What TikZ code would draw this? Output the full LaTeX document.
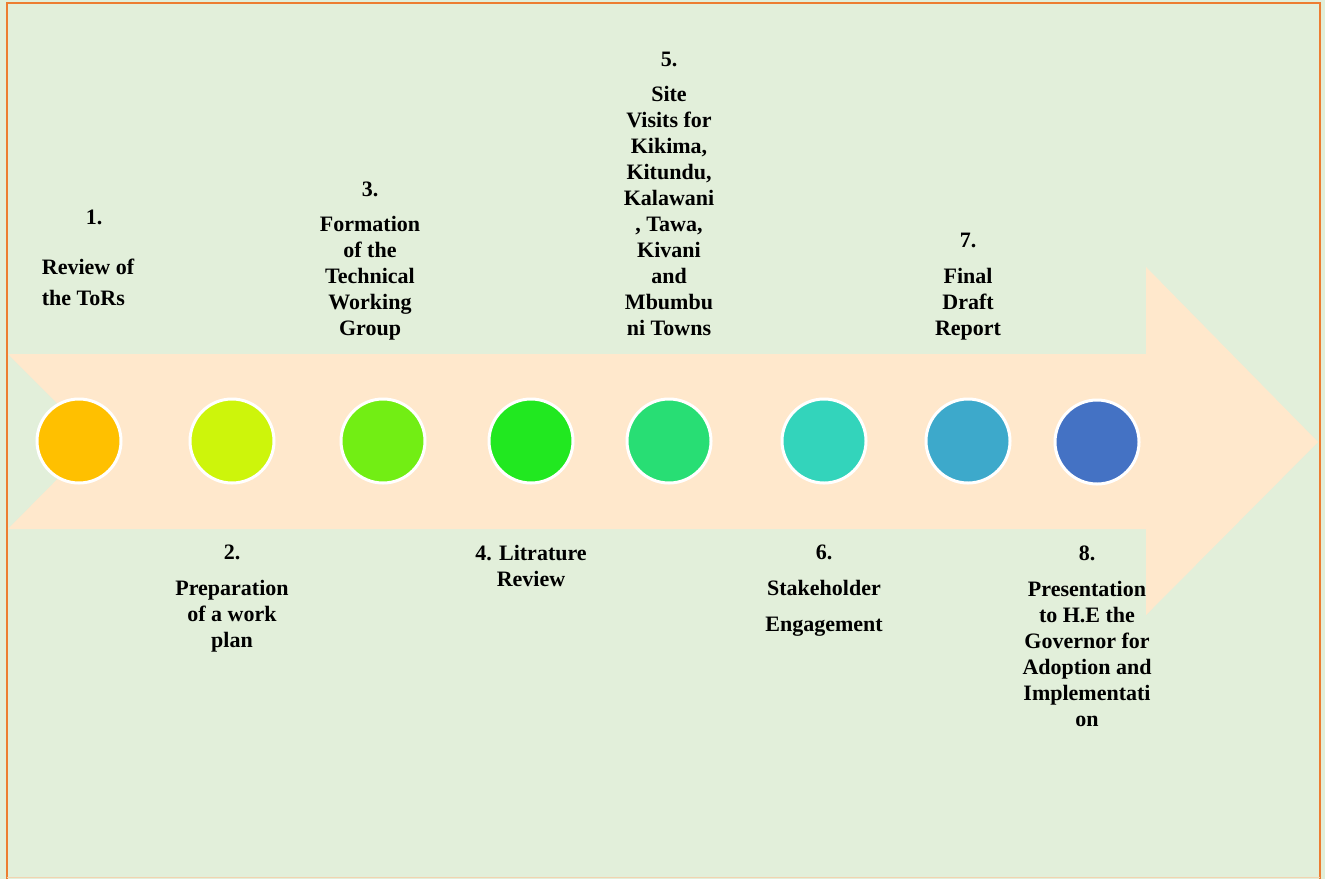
\documentclass[tikz,border=0pt]{standalone}
\usepackage{fontspec}
\setmainfont{Liberation Serif}
\usetikzlibrary{positioning}

\definecolor{bgreen}{HTML}{E2EFDA}
\definecolor{arrowfill}{HTML}{FFE8CC}
\definecolor{frameorange}{HTML}{ED7D31}
\definecolor{stepA}{HTML}{FFC000}
\definecolor{stepB}{HTML}{CDF50B}
\definecolor{stepC}{HTML}{72EE14}
\definecolor{stepD}{HTML}{21E820}
\definecolor{stepE}{HTML}{28DE74}
\definecolor{stepF}{HTML}{33D4BB}
\definecolor{stepG}{HTML}{3DA9CB}
\definecolor{stepH}{HTML}{4472C4}

\begin{document}
\begin{tikzpicture}[x=0.5pt, y=-0.5pt,
        dot/.style={circle, draw=white, line width=1.5pt, minimum size=42pt, inner sep=0pt},
        lbl/.style={align=center, anchor=north, inner sep=0pt,
            font=\fontsize{11}{13}\selectfont\bfseries}]
    \useasboundingbox (0,0) rectangle (1325,879);
    \fill[bgreen] (0,0) rectangle (1325,879);
    \draw[frameorange, line width=1pt] (6.5,879) -- (6.5,3) -- (1319.5,3) -- (1319.5,879);
    \draw[arrowfill!80!brown, line width=0.5pt] (6.5,877.5) -- (1319.5,877.5);

    % timeline arrow
    \fill[arrowfill] (8,354) -- (1146,354) -- (1146,267) -- (1318,442)
        -- (1146,615) -- (1146,529) -- (8,529) -- (95,441) -- cycle;

    % steps
    \node[dot, fill=stepA] (s1) at (79,441)   {};
    \node[dot, fill=stepB] (s2) at (232,441)  {};
    \node[dot, fill=stepC] (s3) at (383,441)  {};
    \node[dot, fill=stepD] (s4) at (531,441)  {};
    \node[dot, fill=stepE] (s5) at (669,441)  {};
    \node[dot, fill=stepF] (s6) at (824,441)  {};
    \node[dot, fill=stepG] (s7) at (968,441)  {};
    \node[dot, fill=stepH] (s8) at (1097,442) {};

    % labels above
    \node[lbl, align=left] (t1) at (88,210) {\hspace*{22pt}1.\\[12pt]Review of\\[2.5pt]the ToRs};
    \node[lbl] (t3) at (370,182) {3.\\[4.5pt]Formation\\of the\\Technical\\Working\\Group};
    \node[lbl] (t5) at (669,52)  {5.\\[4.5pt]Site\\Visits for\\Kikima,\\Kitundu,\\Kalawani\\, Tawa,\\Kivani\\and\\Mbumbu\\ni Towns};
    \node[lbl] (t7) at (968,233) {7.\\[5pt]Final\\Draft\\Report};

    % labels below
    \node[lbl] (t2) at (232,545)  {2.\\[5pt]Preparation\\of a work\\plan};
    \node[lbl] (t4) at (531,545)  {4. Litrature\\Review};
    \node[lbl] (t6) at (824,545)  {6.\\[5pt]Stakeholder\\[5pt]Engagement};
    \node[lbl] (t8) at (1087,545) {8.\\[5pt]Presentation\\to H.E the\\Governor for\\Adoption and\\Implementati\\on};
\end{tikzpicture}
\end{document}
